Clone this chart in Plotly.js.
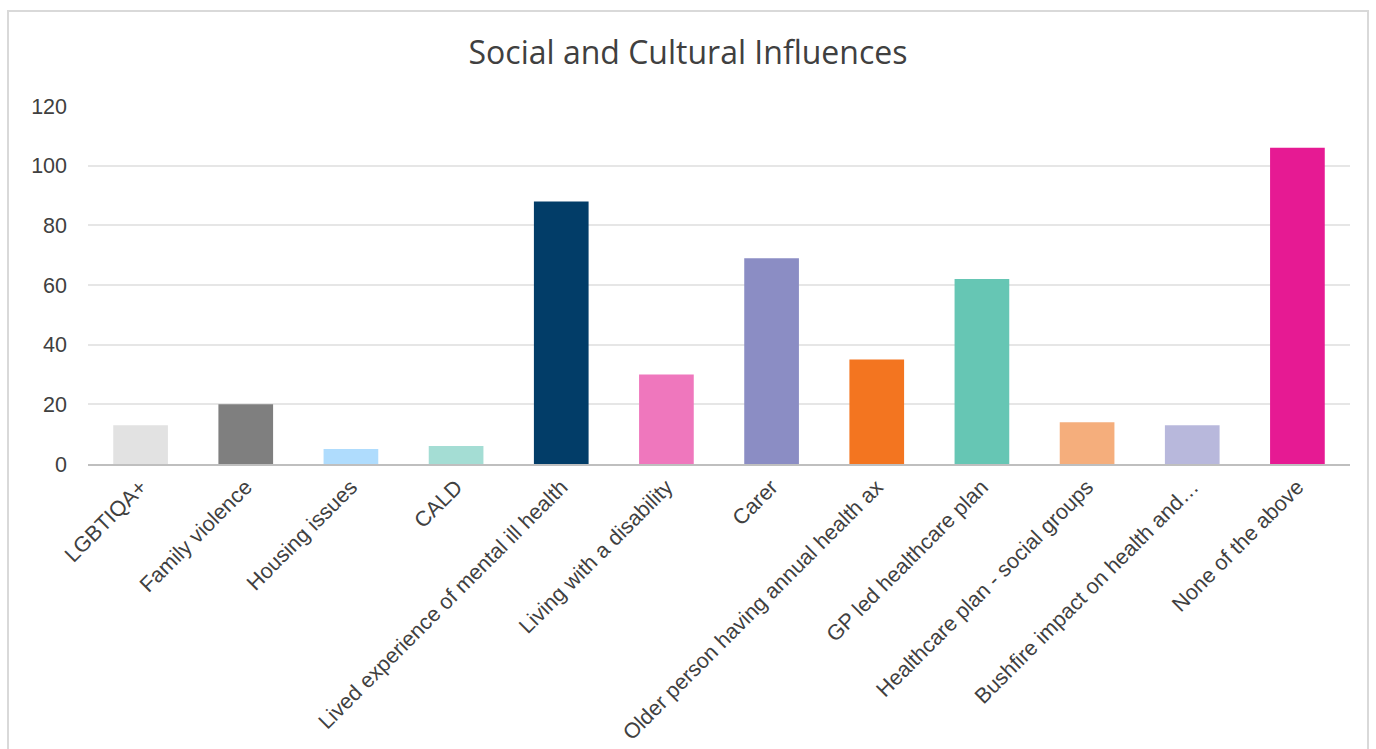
<!DOCTYPE html>
<html>
<head>
<meta charset="utf-8">
<script src="https://cdn.plot.ly/plotly-3.0.1.min.js"></script>
<style>
  html, body { margin: 0; padding: 0; background: #fff; overflow: hidden; }
  #chart { position: absolute; left: 0; top: 0; width: 1376px; height: 749px; }
  #frame { position: absolute; left: 7px; top: 10px; width: 1362px; height: 760px;
           border: 2px solid #D9D9D9; box-sizing: border-box; pointer-events: none; }
</style>
</head>
<body>
<div id="chart"></div>
<div id="frame"></div>
<script>
const categories = [
  "LGBTIQA+",
  "Family violence",
  "Housing issues",
  "CALD",
  "Lived experience of mental ill health",
  "Living with a disability",
  "Carer",
  "Older person having annual health ax",
  "GP led healthcare plan",
  "Healthcare plan - social groups",
  "Bushfire impact on health and…",
  "None of the above"
];
const values = [13, 20, 5, 6, 88, 30, 69, 35, 62, 14, 13, 106];
const barColors = [
  "#E2E2E2", "#7F7F7F", "#AFDCFD", "#A4DDD4", "#023D68", "#EF77BD",
  "#8B8DC4", "#F37520", "#66C6B4", "#F5AE7C", "#B8B8DC", "#E61A93"
];
const yTicks = [0, 20, 40, 60, 80, 100, 120];

const trace = {
  type: "bar",
  x: categories,
  y: values,
  marker: { color: barColors, line: { width: 0 } },
  hoverinfo: "x+y"
};

const layout = {
  width: 1376,
  height: 749,
  margin: { l: 88, r: 26, t: 106, b: 285 },
  paper_bgcolor: "rgba(0,0,0,0)",
  plot_bgcolor: "#fff",
  title: {
    text: "Social and Cultural Influences",
    font: { family: "Open Sans, Liberation Sans, sans-serif", size: 32, color: "#404040" },
    x: 0.5, xanchor: "center",
    y: 0.93, yanchor: "middle"
  },
  bargap: 0.48,
  showlegend: false,
  xaxis: {
    type: "category",
    tickangle: -45,
    tickfont: { family: "Liberation Sans, Arial, sans-serif", size: 21.5, color: "#404040" },
    showgrid: false,
    showline: true,
    linecolor: "#BFBFBF",
    linewidth: 2,
    ticks: "",
    automargin: false
  },
  yaxis: {
    range: [0, 120],
    tickvals: yTicks,
    ticktext: yTicks.map(String),
    tickfont: { family: "Liberation Sans, Arial, sans-serif", size: 21.5, color: "#404040" },
    showgrid: true,
    gridcolor: "#E6E6E6",
    gridwidth: 2,
    zeroline: false,
    showline: false,
    ticks: "",
    ticklabelstandoff: 20,
    automargin: false
  }
};

Plotly.newPlot("chart", [trace], layout, { displayModeBar: false, staticPlot: true });
</script>
</body>
</html>
